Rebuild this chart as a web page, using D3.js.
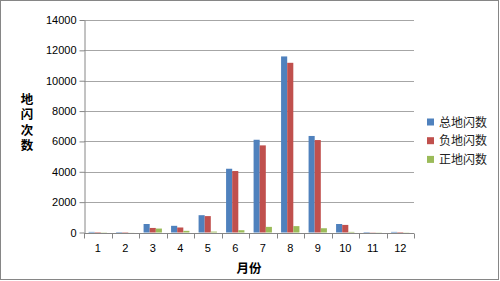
<!DOCTYPE html>
<html>
<head>
<meta charset="utf-8">
<script src="https://cdn.jsdelivr.net/npm/d3@7"></script>
<style>
  body { margin: 0; background: #fff; }
  svg { display: block; font-family: "Liberation Sans", Arial, sans-serif; }
</style>
</head>
<body>
<div id="chart"></div>
<script>
// data
const months = ["1", "2", "3", "4", "5", "6", "7", "8", "9", "10", "11", "12"];
const seriesNames = ["总地闪数", "负地闪数", "正地闪数"];
const totalFlash = [40, 30, 560, 440, 1140, 4200, 6110, 11600, 6360, 560, 30, 40];
const negFlash = [30, 25, 300, 330, 1080, 4050, 5740, 11180, 6090, 500, 15, 30];
const posFlash = [15, 5, 260, 110, 60, 150, 370, 420, 280, 40, 12, 12];
const yTicks = [0, 2000, 4000, 6000, 8000, 10000, 12000, 14000];
const colors = ["#4F81BD", "#C0504D", "#9BBB59"];

const width = 500, height = 281;
const plot = {left: 84, right: 414, top: 20, bottom: 232.5};

const svg = d3.select("#chart").append("svg")
    .attr("width", width)
    .attr("height", height);

// outer frame
svg.append("rect")
    .attr("x", 0.5).attr("y", 0.5)
    .attr("width", width - 2).attr("height", height - 2)
    .attr("fill", "#fff")
    .attr("stroke", "#868686");

const x = d3.scaleBand()
    .domain(months)
    .range([plot.left, plot.right]);

const y = d3.scaleLinear()
    .domain([0, 14000])
    .range([plot.bottom, plot.top]);

// bars inside each band: gap width 150%
const barW = x.bandwidth() / 4.5;
const x1 = d3.scaleBand()
    .domain(d3.range(3))
    .range([x.bandwidth() * 0.75 / 4.5, x.bandwidth() * 0.75 / 4.5 + barW * 3]);

// gridlines
svg.append("g")
    .selectAll("line")
    .data(yTicks.filter(d => d > 0))
    .join("line")
    .attr("x1", plot.left).attr("x2", plot.right)
    .attr("y1", d => Math.round(y(d)) + 0.5)
    .attr("y2", d => Math.round(y(d)) + 0.5)
    .attr("stroke", "#a6a6a6")
    .attr("stroke-width", 1);

// y axis
const yAxis = svg.append("g")
    .attr("transform", `translate(${plot.left + 0.5},0)`)
    .call(d3.axisLeft(y).tickValues(yTicks).tickFormat(d3.format("d"))
        .tickSize(5).tickPadding(3).tickSizeOuter(0));
yAxis.select(".domain").attr("stroke", "#868686");
yAxis.selectAll(".tick line").attr("stroke", "#868686");
yAxis.selectAll("text").attr("font-size", 11).attr("fill", "#000")
    .attr("font-family", "Liberation Sans, Arial, sans-serif");

// bars
const series = [totalFlash, negFlash, posFlash];
const groups = svg.append("g")
    .selectAll("g")
    .data(months)
    .join("g")
    .attr("transform", d => `translate(${x(d)},0)`);

groups.selectAll("rect")
    .data((m, i) => series.map((s, k) => ({k: k, v: s[i]})))
    .join("rect")
    .attr("x", d => x1(d.k))
    .attr("width", x1.bandwidth())
    .attr("y", d => y(d.v))
    .attr("height", d => y(0) - y(d.v))
    .attr("fill", d => colors[d.k]);

// x axis with ticks between categories
const xAxisY = Math.round(y(0)) + 0.5;
svg.append("line")
    .attr("x1", plot.left).attr("x2", plot.right)
    .attr("y1", xAxisY).attr("y2", xAxisY)
    .attr("stroke", "#868686");
svg.append("g")
    .selectAll("line")
    .data(months.concat(["end"]))
    .join("line")
    .attr("x1", (d, i) => Math.round(plot.left + i * x.step()) + 0.5)
    .attr("x2", (d, i) => Math.round(plot.left + i * x.step()) + 0.5)
    .attr("y1", xAxisY).attr("y2", xAxisY + 5)
    .attr("stroke", "#868686");

svg.append("g")
    .selectAll("text")
    .data(months)
    .join("text")
    .attr("x", d => x(d) + x.bandwidth() / 2)
    .attr("y", 252)
    .attr("text-anchor", "middle")
    .attr("font-size", 11)
    .text(d => d);

// axis titles
svg.append("text")
    .attr("x", 249).attr("y", 273)
    .attr("text-anchor", "middle")
    .attr("font-family", "Noto Sans CJK SC")
    .attr("font-weight", "bold")
    .attr("font-size", 12.5)
    .text("月份");

// vertical y title, stacked characters
svg.append("text")
    .attr("x", 27)
    .attr("y", 93)
    .style("writing-mode", "vertical-rl")
    .style("text-orientation", "upright")
    .style("letter-spacing", "2.8px")
    .attr("font-family", "Noto Sans CJK SC")
    .attr("font-weight", "bold")
    .attr("font-size", 12.5)
    .text("地闪次数");

// legend
const legend = svg.append("g")
    .selectAll("g")
    .data(seriesNames)
    .join("g")
    .attr("transform", (d, i) => `translate(427,${122 + i * 18.7})`);
legend.append("rect")
    .attr("x", 0).attr("y", -3.5)
    .attr("width", 7).attr("height", 7)
    .attr("fill", (d, i) => colors[i]);
legend.append("text")
    .attr("x", 12).attr("y", 4.5)
    .attr("font-family", "Noto Sans CJK SC")
    .attr("font-size", 12)
    .attr("fill", "#222")
    .text(d => d);
</script>
</body>
</html>
